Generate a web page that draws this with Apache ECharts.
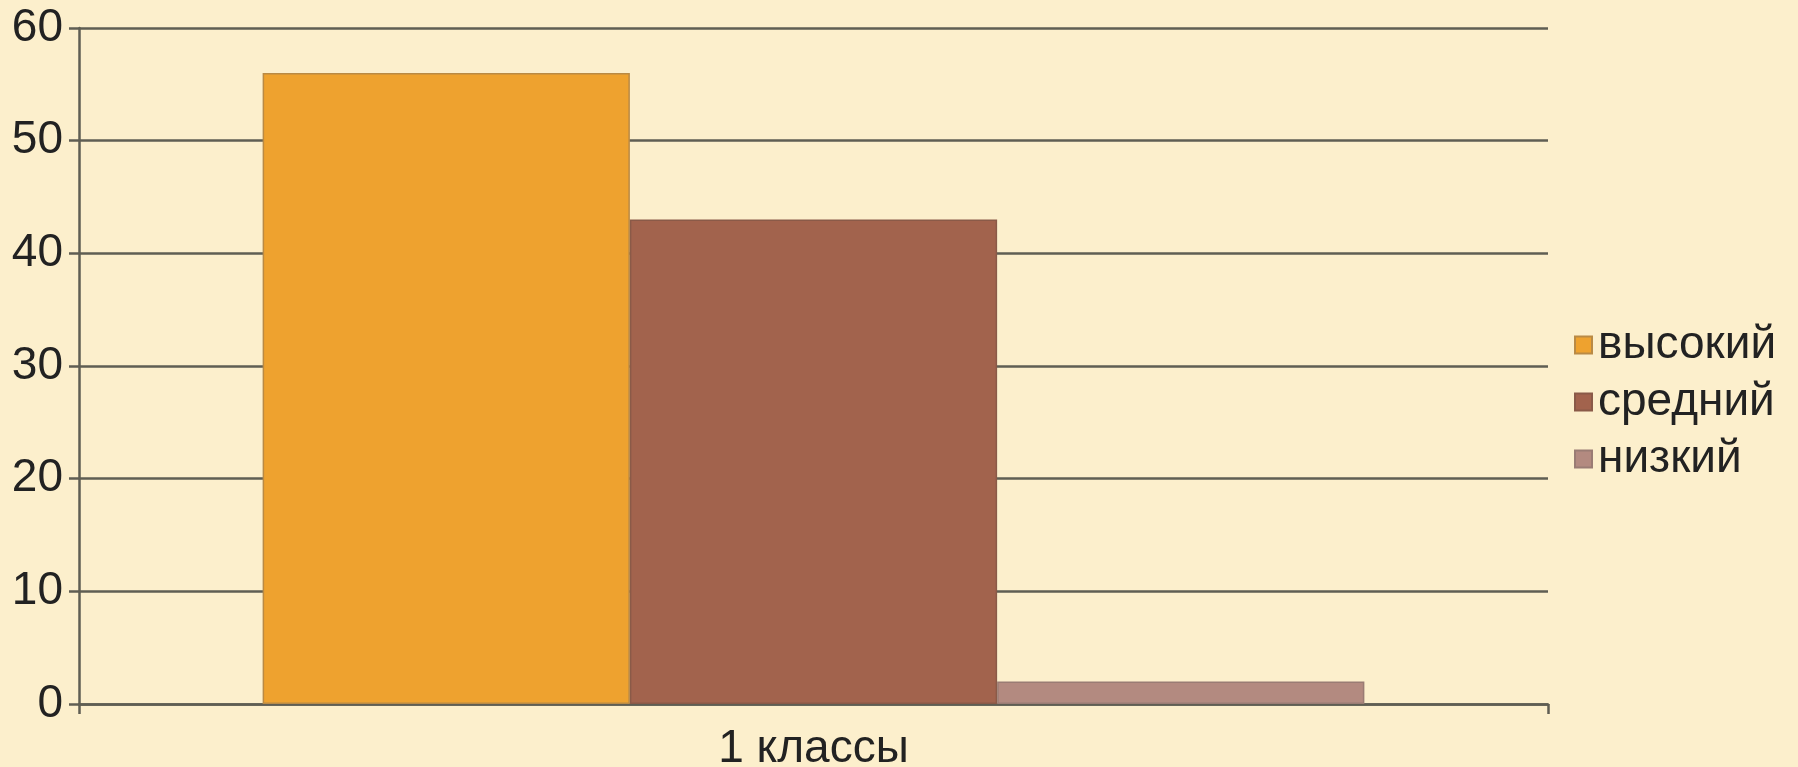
<!DOCTYPE html>
<html>
<head>
<meta charset="utf-8">
<script src="https://cdn.jsdelivr.net/npm/echarts@6/dist/echarts.min.js"></script>
<style>
  html,body{margin:0;padding:0;background:#fcefcc;}
  #chart{width:1798px;height:767px;}
</style>
</head>
<body>
<div id="chart"></div>
<script>
"use strict";

// data
var categories=['1 классы'];
var seriesNames=['высокий','средний','низкий'];
var seriesValues=[[56],[43],[2]];
var seriesColors=['#eea22f','#a2634d','#b38a80'];
var borderColors=['#b98a45','#8a5a48','#9a7c74'];

var textColor='#222222';
var lineColor='#5f5e53';

var chart=echarts.init(document.getElementById('chart'));

var series=seriesNames.map(function(name,i){
  return {
    name:name,
    type:'bar',
    data:seriesValues[i],
    barGap:'0%',
    barCategoryGap:'25%',
    itemStyle:{color:seriesColors[i],borderColor:borderColors[i],borderWidth:1.5},
    emphasis:{disabled:true},
    animation:false
  };
});

chart.setOption({
  backgroundColor:'#fcefcc',
  animation:false,
  textStyle:{fontFamily:'Liberation Sans, Arial, sans-serif'},
  grid:{left:79,right:250,top:28,bottom:63,containLabel:false,outerBoundsMode:'none'},
  legend:{
    orient:'vertical',
    left:1574,
    top:322,
    padding:0,
    itemWidth:17,
    itemHeight:17,
    itemGap:11,
    icon:'rect',
    textStyle:{fontSize:46,lineHeight:45,color:textColor,padding:[0,0,0,1]},
    data:seriesNames
  },
  xAxis:{
    type:'category',
    data:categories,
    axisLine:{lineStyle:{color:lineColor,width:2.5}},
    axisTick:{show:true,length:10,lineStyle:{color:lineColor,width:2.5}},
    axisLabel:{fontSize:46,color:textColor,margin:22}
  },
  yAxis:{
    type:'value',
    min:0,
    max:60,
    interval:10,
    axisLine:{show:true,lineStyle:{color:lineColor,width:2.5}},
    axisTick:{show:true,length:10,lineStyle:{color:lineColor,width:2.5}},
    axisLabel:{fontSize:46,color:textColor,margin:16},
    splitLine:{lineStyle:{color:lineColor,width:2.5}}
  },
  series:series
});
</script>
</body>
</html>
